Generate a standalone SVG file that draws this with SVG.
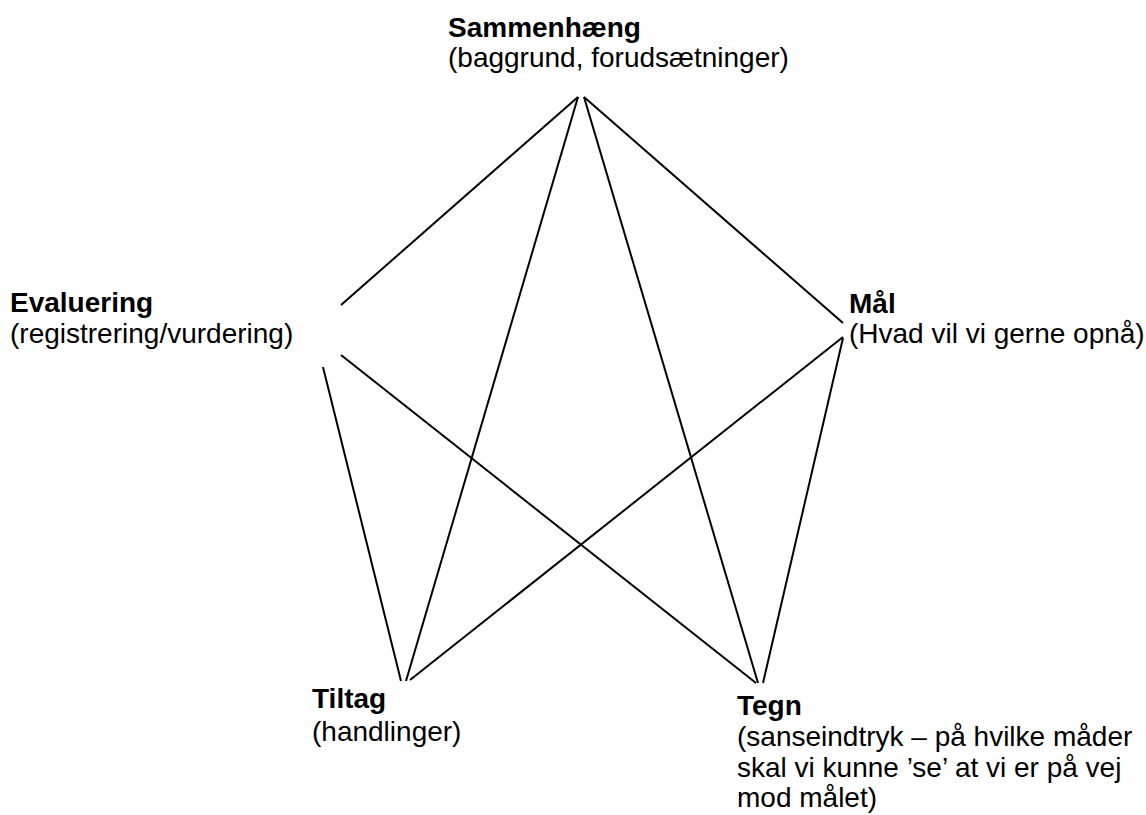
<svg xmlns="http://www.w3.org/2000/svg" width="1146" height="815" viewBox="0 0 1146 815">
<style>
.t{font-family:"Liberation Sans",Arial,sans-serif;font-size:28px;fill:#000}
.b{font-weight:bold}
.c{stroke:#000;stroke-width:2;fill:none}
</style>
<rect width="1146" height="815" fill="#fff"/>
<g id="connectors">
<line class="c" x1="578" y1="97" x2="341" y2="305"/>
<line class="c" x1="578" y1="97" x2="406" y2="681"/>
<line class="c" x1="584" y1="97" x2="758" y2="683"/>
<line class="c" x1="584" y1="97" x2="843" y2="323"/>
<line class="c" x1="341" y1="355" x2="756" y2="683"/>
<line class="c" x1="323" y1="367" x2="401" y2="681"/>
<line class="c" x1="843" y1="337" x2="410" y2="680"/>
<line class="c" x1="843" y1="338" x2="763" y2="683"/>
</g>
<g id="sammenhaeng">
<text class="t b" x="448" y="37">Sammenhæng</text>
<text class="t" x="448" y="67">(baggrund, forudsætninger)</text>
</g>
<g id="evaluering">
<text class="t b" x="10" y="312">Evaluering</text>
<text class="t" x="10" y="343">(registrering/vurdering)</text>
</g>
<g id="maal">
<text class="t b" x="849" y="313">Mål</text>
<text class="t" x="849" y="343">(Hvad vil vi gerne opnå)</text>
</g>
<g id="tiltag">
<text class="t b" x="312" y="708">Tiltag</text>
<text class="t" x="312" y="741">(handlinger)</text>
</g>
<g id="tegn">
<text class="t b" x="737" y="715">Tegn</text>
<text class="t" x="737" y="746">(sanseindtryk – på hvilke måder</text>
<text class="t" x="737" y="777">skal vi kunne ’se’ at vi er på vej</text>
<text class="t" x="737" y="807">mod målet)</text>
</g>
</svg>
